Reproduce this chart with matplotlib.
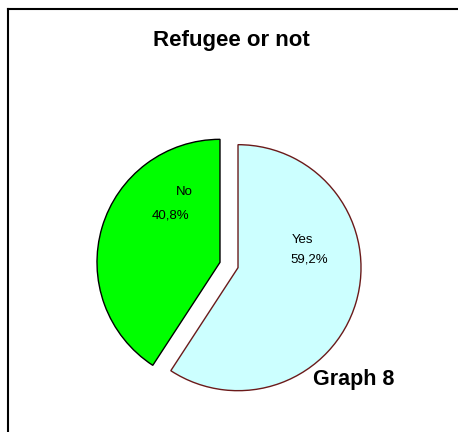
import matplotlib
matplotlib.use("Agg")
import matplotlib.pyplot as plt
from matplotlib.lines import Line2D

categories = ["Yes", "No"]
values = [59.2, 40.8]
pct_labels = ["59,2%", "40,8%"]
colors = ["#CCFFFF", "#00FF00"]
edges = ["#6B1A1A", "#000000"]

W, H = 458, 432
fig = plt.figure(figsize=(W / 100, H / 100), dpi=100)
fig.patch.set_facecolor("white")
ax = fig.add_axes([0, 0, 1, 1])

R = 123
cx, cy = 229, H - 265
wedges, _ = ax.pie(values, colors=colors, startangle=90, counterclock=False,
                   explode=[9.4, 9.4], radius=R, center=(cx, cy),
                   frame=True)
for w, ec in zip(wedges, edges):
    w.set_edgecolor(ec)
    w.set_linewidth(1.0)
ax.set_xlim(0, W)
ax.set_ylim(0, H)
ax.set_aspect("equal")
ax.axis("off")

font = "Liberation Sans"


def py(y):
    return H - y


ax.text(302, py(243), categories[0], ha="center", va="baseline", fontsize=9.5, family=font)
ax.text(309, py(263), pct_labels[0], ha="center", va="baseline", fontsize=9.5, family=font)
ax.text(184.5, py(195), categories[1], ha="center", va="baseline", fontsize=9.5, family=font)
ax.text(170, py(218), pct_labels[1], ha="center", va="baseline", fontsize=9.5, family=font)

ax.text(231, py(46), "Refugee or not", ha="center", va="baseline", fontsize=16,
        fontweight="bold", family=font)
ax.text(354, py(385), "Graph 8", ha="center", va="baseline", fontsize=15.5,
        fontweight="bold", family=font)

fig.add_artist(Line2D([8 / W, 8 / W], [0, 1 - 8.5 / H], color="black", lw=1.5,
                      transform=fig.transFigure))
fig.add_artist(Line2D([8 / W, 1], [1 - 8.5 / H, 1 - 8.5 / H], color="black", lw=1.5,
                      transform=fig.transFigure))

fig.savefig("out.png", dpi=100, facecolor="white")
